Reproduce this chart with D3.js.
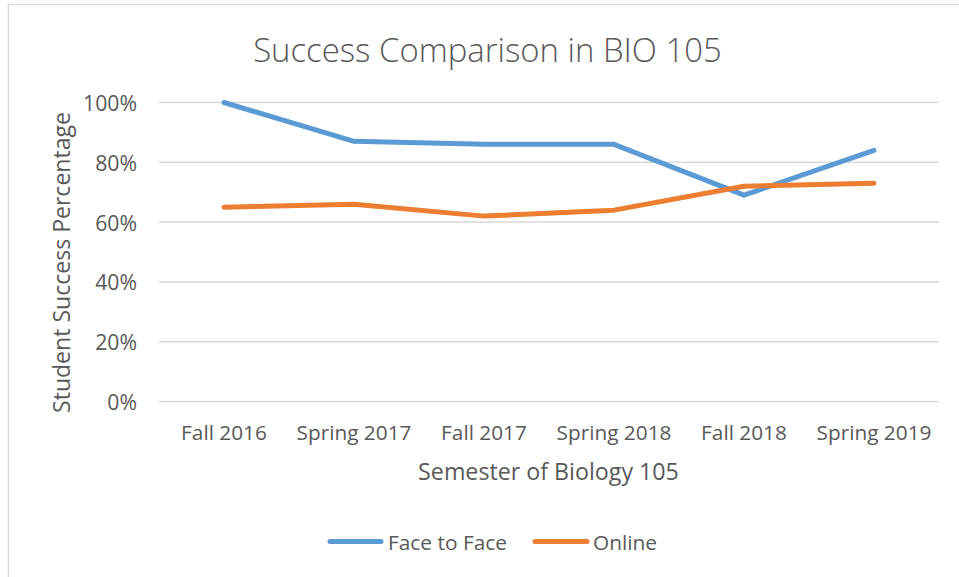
<!DOCTYPE html>
<html>
<head>
<meta charset="utf-8">
<script src="https://cdn.jsdelivr.net/npm/d3@7"></script>
<style>
  html, body { margin: 0; padding: 0; background: #fff; }
  svg { display: block; }
  text { font-family: "Open Sans", "Noto Sans", sans-serif; fill: #595959; }
</style>
</head>
<body>
<svg id="chart" width="959" height="577"></svg>
<script>
const categories = ["Fall 2016", "Spring 2017", "Fall 2017", "Spring 2018", "Fall 2018", "Spring 2019"];
const faceToFace = [100, 87, 86, 86, 69, 84];
const online = [65, 66, 62, 64, 72, 73];
const yTicks = [0, 20, 40, 60, 80, 100];
const seriesNames = ["Face to Face", "Online"];
const seriesColors = ["#5B9BD5", "#ED7D31"];

const svg = d3.select("#chart");
const plotLeft = 159, plotRight = 939;

function fit(sel, target) {
  sel.style("font-size", "100px");
  const w = sel.node().getComputedTextLength();
  const size = 100 * target / w;
  sel.style("font-size", size + "px");
  return size;
}
function sizeFor(str, target) {
  const t = svg.append("text").text(str);
  const s = fit(t, target);
  t.remove();
  return s;
}

// outer border
svg.append("rect")
  .attr("x", 8.5).attr("y", 4.5)
  .attr("width", 1200).attr("height", 1200)
  .attr("fill", "none").attr("stroke", "#D9D9D9").attr("stroke-width", 1.5);

const x = d3.scalePoint().domain(categories).range([plotLeft, plotRight]).padding(0.5);
const y = d3.scaleLinear().domain([0, 100]).range([401.5, 102.5]);

// gridlines
svg.append("g").selectAll("line").data(yTicks).join("line")
  .attr("x1", plotLeft).attr("x2", plotRight)
  .attr("y1", d => y(d)).attr("y2", d => y(d))
  .attr("stroke", "#D9D9D9").attr("stroke-width", 1.5);

// y tick labels
const tickSize = sizeFor("100%", 54);
svg.append("g").selectAll("text").data(yTicks).join("text")
  .attr("x", 137).attr("y", d => y(d))
  .attr("text-anchor", "end").attr("dominant-baseline", "central")
  .style("font-size", tickSize + "px")
  .text(d => d + "%");

// x tick labels
const xSize = sizeFor("Spring 2019", 115);
svg.append("g").selectAll("text").data(categories).join("text")
  .attr("x", d => x(d)).attr("y", 432)
  .attr("text-anchor", "middle").attr("dominant-baseline", "central")
  .style("font-size", xSize + "px")
  .text(d => d);

// lines
const line = d3.line().x((d, i) => x(categories[i])).y(d => y(d));
[faceToFace, online].forEach((vals, k) => {
  svg.append("path")
    .attr("d", line(vals))
    .attr("fill", "none")
    .attr("stroke", seriesColors[k])
    .attr("stroke-width", 5)
    .attr("stroke-linecap", "round")
    .attr("stroke-linejoin", "round");
});

// title
const title = svg.append("text")
  .attr("x", 487.5).attr("y", 49)
  .attr("text-anchor", "middle").attr("dominant-baseline", "central")
  .style("font-weight", 300)
  .text("Success Comparison in BIO 105");
fit(title, 469);

// x axis title
const xt = svg.append("text")
  .attr("x", 548.5).attr("y", 471)
  .attr("text-anchor", "middle").attr("dominant-baseline", "central")
  .text("Semester of Biology 105");
fit(xt, 261);

// y axis title
const yt = svg.append("text")
  .attr("transform", "translate(61,262.5) rotate(-90)")
  .attr("text-anchor", "middle").attr("dominant-baseline", "central")
  .text("Student Success Percentage");
fit(yt, 301);

// legend
const legendItems = [
  { name: seriesNames[0], color: seriesColors[0], x1: 330, x2: 381, tx: 388 },
  { name: seriesNames[1], color: seriesColors[1], x1: 535, x2: 587, tx: 593 }
];
const legSize = sizeFor("Face to Face", 119);
const lg = svg.append("g").selectAll("g").data(legendItems).join("g");
lg.append("line")
  .attr("x1", d => d.x1).attr("x2", d => d.x2)
  .attr("y1", 541.5).attr("y2", 541.5)
  .attr("stroke", d => d.color).attr("stroke-width", 5)
  .attr("stroke-linecap", "round");
lg.append("text")
  .attr("x", d => d.tx).attr("y", 541.5)
  .attr("dominant-baseline", "central")
  .style("font-size", legSize + "px")
  .text(d => d.name);
</script>
</body>
</html>
